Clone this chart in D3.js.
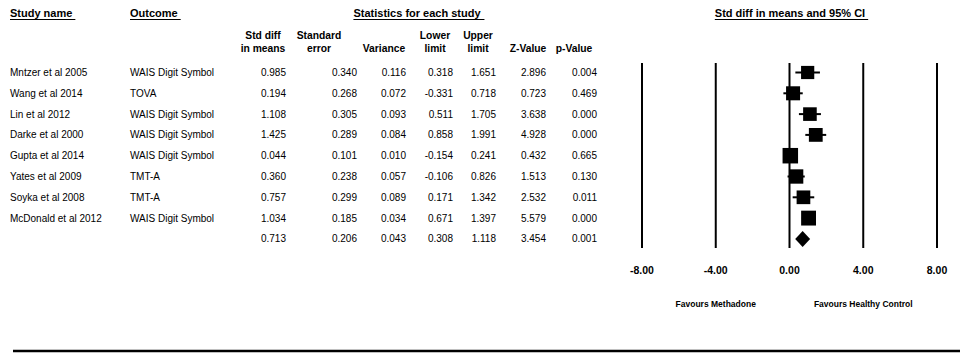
<!DOCTYPE html>
<html>
<head>
<meta charset="utf-8">
<script src="https://cdn.jsdelivr.net/npm/d3@7"></script>
<style>
  html, body { margin: 0; padding: 0; background: #fff; }
  svg { display: block; font-family: "Liberation Sans", Arial, sans-serif; }
</style>
</head>
<body>
<svg id="chart" width="965" height="355"></svg>
<script>
// Study-level data
const studies = ["Mntzer et al 2005", "Wang et al 2014", "Lin et al 2012", "Darke et al 2000",
                 "Gupta et al 2014", "Yates et al 2009", "Soyka et al 2008", "McDonald et al 2012"];
const outcomes = ["WAIS Digit Symbol", "TOVA", "WAIS Digit Symbol", "WAIS Digit Symbol",
                  "WAIS Digit Symbol", "TMT-A", "TMT-A", "WAIS Digit Symbol"];
const stdDiff  = [0.985, 0.194, 1.108, 1.425, 0.044, 0.360, 0.757, 1.034];
const stdErr   = [0.340, 0.268, 0.305, 0.289, 0.101, 0.238, 0.299, 0.185];
const variance = [0.116, 0.072, 0.093, 0.084, 0.010, 0.057, 0.089, 0.034];
const lower    = [0.318, -0.331, 0.511, 0.858, -0.154, -0.106, 0.171, 0.671];
const upper    = [1.651, 0.718, 1.705, 1.991, 0.241, 0.826, 1.342, 1.397];
const zValue   = [2.896, 0.723, 3.638, 4.928, 0.432, 1.513, 2.532, 5.579];
const pValue   = [0.004, 0.469, 0.000, 0.000, 0.665, 0.130, 0.011, 0.000];

// Pooled (random effects) result
const pooled = { est: 0.713, se: 0.206, v: 0.043, lo: 0.308, hi: 1.118, z: 3.454, p: 0.001 };
const tau2 = 0.27; // between-study variance used for box weights

const axisTicks = [-8, -4, 0, 4, 8];
const favourLabels = [{ text: "Favours Methadone", at: -4 }, { text: "Favours Healthy Control", at: 4 }];

const svg = d3.select("#chart");

// Layout
const rowTop = 72.5, rowStep = 20.8;
const y = i => rowTop + i * rowStep;
const x = d3.scaleLinear().domain([-8, 8]).range([642, 937]);
const plotTop = 63, plotBottom = 248;

// Plain hyphen-minus, fixed decimals
const fmt = v => v.toFixed(3);
const fmtTick = v => v.toFixed(2);

// Column definitions: right edge for values, header centre and lines
const cols = [
  { key: stdDiff,  pooled: pooled.est, right: 286, hx: 263, head: ["Std diff", "in means"] },
  { key: stdErr,   pooled: pooled.se,  right: 357, hx: 319, head: ["Standard", "error"] },
  { key: variance, pooled: pooled.v,   right: 406, hx: 384, head: ["", "Variance"] },
  { key: lower,    pooled: pooled.lo,  right: 453, hx: 435, head: ["Lower", "limit"] },
  { key: upper,    pooled: pooled.hi,  right: 496, hx: 478, head: ["Upper", "limit"] },
  { key: zValue,   pooled: pooled.z,   right: 546, hx: 528, head: ["", "Z-Value"] },
  { key: pValue,   pooled: pooled.p,   right: 597, hx: 574, head: ["", "p-Value"] }
];

// Underlined group headings
function heading(text, xPos, anchor) {
  const t = svg.append("text")
    .attr("x", xPos).attr("y", 17)
    .attr("text-anchor", anchor)
    .attr("font-size", 11).attr("font-weight", "bold")
    .attr("fill", "#000")
    .text(text);
  const bb = t.node().getBBox();
  svg.append("line")
    .attr("x1", bb.x).attr("x2", bb.x + bb.width + 3)
    .attr("y1", 19.5).attr("y2", 19.5)
    .attr("stroke", "#000").attr("stroke-width", 1);
}
heading("Study name", 10, "start");
heading("Outcome", 130, "start");
heading("Statistics for each study", 417, "middle");
heading("Std diff in means and 95%  CI", 790, "middle");

// Column sub-headers
cols.forEach(c => {
  c.head.forEach((line, k) => {
    if (!line) return;
    svg.append("text")
      .attr("x", c.hx).attr("y", 38.5 + k * 13)
      .attr("text-anchor", "middle")
      .attr("font-size", 10.3).attr("font-weight", "bold")
      .text(line);
  });
});

// Study rows
const rows = svg.append("g").attr("font-size", 10).attr("fill", "#000");
studies.forEach((s, i) => {
  rows.append("text").attr("x", 10).attr("y", y(i)).attr("dy", "0.35em").text(s);
  rows.append("text").attr("x", 130).attr("y", y(i)).attr("dy", "0.35em").text(outcomes[i]);
  cols.forEach(c => {
    rows.append("text").attr("x", c.right).attr("y", y(i)).attr("dy", "0.35em")
      .attr("text-anchor", "end").text(fmt(c.key[i]));
  });
});
// Pooled row
cols.forEach(c => {
  rows.append("text").attr("x", c.right).attr("y", y(studies.length)).attr("dy", "0.35em")
    .attr("text-anchor", "end").text(fmt(c.pooled));
});

// Reference lines at each tick
svg.append("g").selectAll("line").data(axisTicks).join("line")
  .attr("x1", d => x(d)).attr("x2", d => x(d))
  .attr("y1", plotTop).attr("y2", plotBottom)
  .attr("stroke", "#000").attr("stroke-width", 2);

// Tick labels
svg.append("g").selectAll("text").data(axisTicks).join("text")
  .attr("x", d => x(d)).attr("y", 274)
  .attr("text-anchor", "middle")
  .attr("font-size", 10.5).attr("font-weight", "bold")
  .text(d => fmtTick(d));

// Favour labels
svg.append("g").selectAll("text").data(favourLabels).join("text")
  .attr("x", d => x(d.at)).attr("y", 307)
  .attr("text-anchor", "middle")
  .attr("font-size", 8.5).attr("font-weight", "bold")
  .text(d => d.text);

// Confidence intervals and weighted boxes
const marks = svg.append("g");
studies.forEach((s, i) => {
  marks.append("line")
    .attr("x1", x(lower[i])).attr("x2", x(upper[i]))
    .attr("y1", y(i)).attr("y2", y(i))
    .attr("stroke", "#000").attr("stroke-width", 2);
  const side = 8.2 * Math.sqrt(1 / (variance[i] + tau2));
  marks.append("rect")
    .attr("x", x(stdDiff[i]) - side / 2).attr("y", y(i) - side / 2)
    .attr("width", side).attr("height", side)
    .attr("fill", "#000");
});

// Pooled diamond
const py = y(studies.length), ph = 8;
marks.append("path")
  .attr("d", `M${x(pooled.lo)},${py} L${x(pooled.est)},${py - ph} L${x(pooled.hi)},${py} L${x(pooled.est)},${py + ph} Z`)
  .attr("fill", "#000");

// Bottom rule
svg.append("line")
  .attr("x1", 13).attr("x2", 960)
  .attr("y1", 351).attr("y2", 351)
  .attr("stroke", "#000").attr("stroke-width", 2.5);
</script>
</body>
</html>
